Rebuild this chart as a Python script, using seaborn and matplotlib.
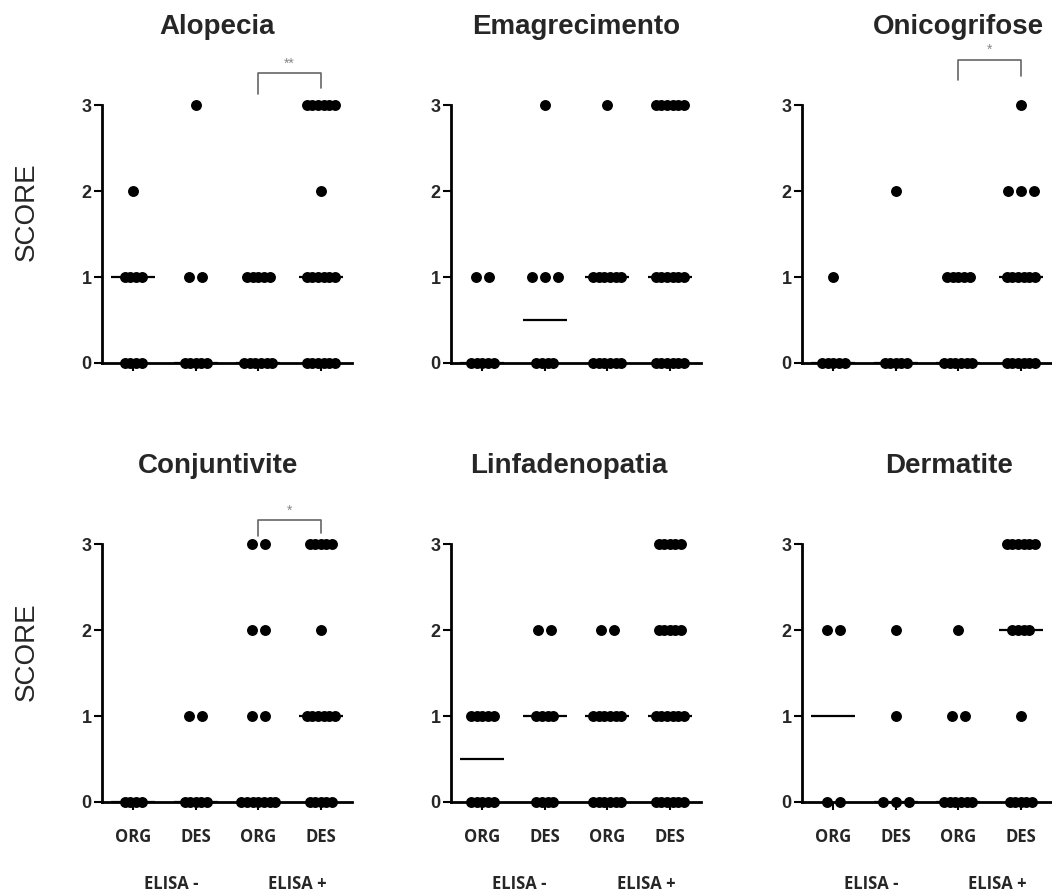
import numpy as np
import pandas as pd
import matplotlib
matplotlib.use("Agg")
import matplotlib.pyplot as plt
import seaborn as sns

# ---------------- data ----------------
PANELS = ["Alopecia", "Emagrecimento", "Onicogrifose",
          "Conjuntivite", "Linfadenopatia", "Dermatite"]
GROUP_LABELS = ["ORG", "DES", "ORG", "DES"]
ELISA_LABELS = ["ELISA -", "ELISA +"]

# scores per group: ORG ELISA-, DES ELISA-, ORG ELISA+, DES ELISA+
alopecia = [
    [0, 0, 0, 0, 1, 1, 1, 1, 2],
    [0, 0, 0, 0, 0, 1, 1, 3],
    [0, 0, 0, 0, 0, 0, 1, 1, 1, 1, 1],
    [0, 0, 0, 0, 0, 0, 1, 1, 1, 1, 1, 1, 2, 3, 3, 3, 3, 3, 3],
]
emagrecimento = [
    [0, 0, 0, 0, 0, 1, 1],
    [0, 0, 0, 0, 1, 1, 1, 3],
    [0, 0, 0, 0, 0, 0, 1, 1, 1, 1, 1, 1, 3],
    [0, 0, 0, 0, 0, 0, 1, 1, 1, 1, 1, 1, 3, 3, 3, 3, 3, 3],
]
onicogrifose = [
    [0, 0, 0, 0, 0, 1],
    [0, 0, 0, 0, 0, 2],
    [0, 0, 0, 0, 0, 0, 1, 1, 1, 1, 1],
    [0, 0, 0, 0, 0, 0, 1, 1, 1, 1, 1, 1, 2, 2, 2, 3],
]
conjuntivite = [
    [0, 0, 0, 0],
    [0, 0, 0, 0, 0, 1, 1],
    [0, 0, 0, 0, 0, 0, 0, 1, 1, 2, 2, 3, 3],
    [0, 0, 0, 0, 0, 1, 1, 1, 1, 1, 1, 2, 3, 3, 3, 3, 3],
]
linfadenopatia = [
    [0, 0, 0, 0, 0, 1, 1, 1, 1, 1],
    [0, 0, 0, 0, 1, 1, 1, 1, 2, 2],
    [0, 0, 0, 0, 0, 0, 1, 1, 1, 1, 1, 1, 2, 2],
    [0, 0, 0, 0, 0, 0, 1, 1, 1, 1, 1, 1, 2, 2, 2, 2, 2, 3, 3, 3, 3, 3],
]
dermatite = [
    [0, 0, 2, 2],
    [0, 0, 0, 1, 2],
    [0, 0, 0, 0, 0, 0, 1, 1, 2],
    [0, 0, 0, 0, 0, 1, 2, 2, 2, 2, 3, 3, 3, 3, 3, 3],
]
PANEL_DATA = [alopecia, emagrecimento, onicogrifose,
              conjuntivite, linfadenopatia, dermatite]

# significance between ORG ELISA+ and DES ELISA+
SIGNIF = {"Alopecia": "**", "Onicogrifose": "*", "Conjuntivite": "*"}

# ---------------- style / layout ----------------
BRACKET_Y = {"Alopecia": (3.37, 3.13, 3.20),
             "Onicogrifose": (3.53, 3.29, 3.34),
             "Conjuntivite": (3.28, 3.10, 3.13)}
TITLE_X = [0.46, 0.50, 0.625, 0.466, 0.47, 0.59]

W, H = 1052, 896
COL_LEFT = [102, 451, 802]
ROW_BOTTOM = [393, 832]
AX_W, AX_H = 250, 305

sns.set_style("ticks")
plt.rcParams["font.family"] = ["Liberation Sans", "DejaVu Sans"]

fig = plt.figure(figsize=(W / 100, H / 100), dpi=100)


def row_offsets(n):
    step = 0.21 if n <= 3 else 0.09
    return (np.arange(n) - (n - 1) / 2.0) * step


for idx, (name, groups) in enumerate(zip(PANELS, PANEL_DATA)):
    r, c = divmod(idx, 3)
    ax = fig.add_axes([COL_LEFT[c] / W, (H - ROW_BOTTOM[r]) / H,
                       AX_W / W, AX_H / H])

    rows = []
    for g, vals in enumerate(groups):
        vals = np.asarray(vals)
        for s in np.unique(vals):
            n = int((vals == s).sum())
            for off in row_offsets(n):
                rows.append({"group": g, "score": s, "xpos": g + off})
    df = pd.DataFrame(rows)

    sns.scatterplot(data=df, x="xpos", y="score", color="black", s=62,
                    linewidth=0, ax=ax, legend=False, zorder=4,
                    clip_on=False)

    for g, vals in enumerate(groups):
        ax.hlines(np.median(vals), g - 0.35, g + 0.35, color="black",
                  lw=1.6, zorder=3)

    ax.set_xlim(-0.5, 3.5)
    ax.set_ylim(-0.35, 3.2)
    ax.set_xlabel("")
    ax.set_ylabel("")
    ax.set_yticks([0, 1, 2, 3])
    ax.set_xticks([0, 1, 2, 3])

    sns.despine(ax=ax)
    ax.spines["bottom"].set_position(("data", 0))
    ax.spines["left"].set_bounds(0, 3)
    for sp in ("left", "bottom"):
        ax.spines[sp].set_linewidth(2.0)
        ax.spines[sp].set_color("black")

    ax.tick_params(axis="both", direction="out", length=6, width=1.5,
                   color="black")
    ax.tick_params(axis="y", pad=1.5, labelsize=13)
    for lab in ax.get_yticklabels():
        lab.set_fontweight("bold")

    if r == 1:
        ax.set_xticklabels(GROUP_LABELS, fontsize=12, fontweight="bold",
                           family=["Open Sans", "DejaVu Sans"])
        ax.tick_params(axis="x", pad=12.5)
        trans = ax.get_xaxis_transform()
        for xe, lab in zip([0.6, 2.63], ELISA_LABELS):
            ax.text(xe, -0.17, lab, transform=trans, ha="center",
                    va="center", fontsize=12, fontweight="bold",
                    family=["Open Sans", "DejaVu Sans"])
    else:
        ax.tick_params(axis="x", labelbottom=False)

    ax.text(TITLE_X[idx], 1.20, name, transform=ax.transAxes,
            ha="center", va="center", fontsize=20, fontweight="bold")

    if name in SIGNIF:
        top, yl, yr = BRACKET_Y[name]
        ax.plot([2, 2, 3, 3], [yl, top, top, yr], color="#666666",
                lw=1.2, clip_on=False, zorder=3)
        ax.text(2.5, top + 0.03, SIGNIF[name], ha="center", va="bottom",
                fontsize=10, color="#888888", clip_on=False)

for ycen in (212, 652):
    fig.text(27 / W, 1 - ycen / H, "SCORE", rotation=90, ha="center",
             va="center", fontsize=20)

fig.savefig("out.png", dpi=100, facecolor="white")
